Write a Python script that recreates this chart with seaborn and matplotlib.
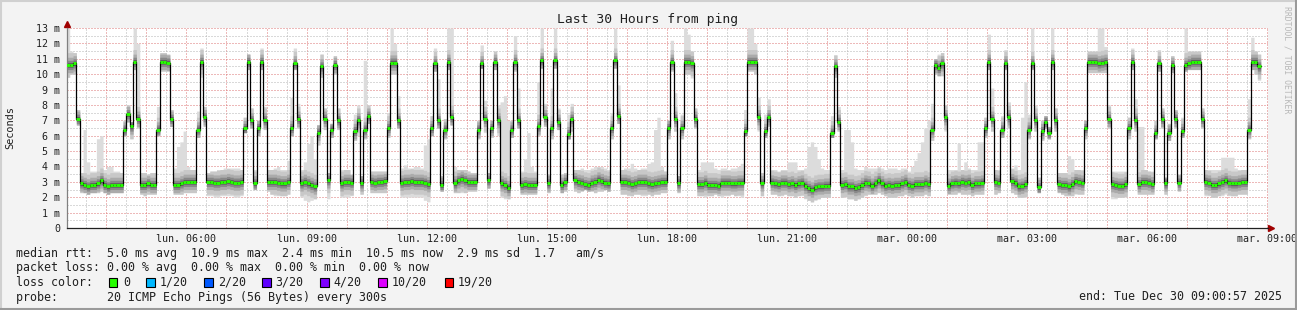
import numpy as np
import pandas as pd
import matplotlib
matplotlib.use("Agg")
import matplotlib.pyplot as plt
from matplotlib.patches import Rectangle
from matplotlib.lines import Line2D
import seaborn as sns

# ---------------- data (5-minute steps, milliseconds) ----------------
median_ms = [
 10.6, 10.6, 10.7, 7.1,
 2.9, 2.8, 2.7, 2.8, 2.8, 2.9, 3.1, 2.8, 2.7, 2.8, 2.8, 2.8, 2.8,
 6.4, 7.4, 6.6, 10.8, 7.1,
 2.8, 2.8, 2.9, 2.8, 2.8,
 6.4, 10.8, 10.8, 10.75, 7.1,
 2.8, 2.8, 2.9, 3.0, 3.0, 3.0, 3.0,
 6.4, 10.8, 7.2,
 3.0, 3.0, 2.95, 2.95, 3.0, 3.0, 3.05, 3.0, 2.95, 2.95, 3.0,
 6.5, 10.8, 7.0, 2.9, 6.5, 10.8, 7.0,
 3.0, 3.0, 3.0, 2.95, 2.9, 2.9, 3.0,
 6.5, 10.7, 7.1,
 2.9, 3.0, 2.9, 2.8, 2.7,
 6.2, 10.5, 7.1, 3.1, 6.4, 10.6, 7.0,
 2.9, 3.0, 3.0, 2.95,
 6.3, 7.0, 2.9, 6.4, 7.3,
 3.0, 2.95, 3.0, 3.0, 3.05,
 6.5, 10.75, 10.75, 7.0,
 2.95, 3.0, 3.0, 3.05, 3.0, 3.0, 3.0, 2.95, 2.85,
 6.5, 10.7, 7.0, 2.8, 6.4, 10.8, 7.2,
 2.9, 3.1, 3.2, 3.1, 3.0, 3.0, 3.0,
 6.4, 10.7, 7.1, 3.1, 6.5, 10.8, 7.0,
 2.9, 2.8, 2.6,
 6.4, 10.8, 7.0,
 2.8, 2.85, 2.8, 2.8, 2.8,
 6.6, 10.9, 7.2, 2.9, 6.5, 10.9, 6.9, 2.8, 3.0, 6.1, 7.1,
 3.1, 3.0, 2.95, 2.85, 2.8, 2.95, 3.0, 3.15, 3.05, 2.95, 2.9,
 6.5, 10.9, 7.3,
 3.0, 3.0, 2.95, 2.85, 2.9, 3.0, 3.0, 3.0, 2.9, 2.85, 2.9, 2.95, 3.0, 3.0,
 6.5, 10.8, 7.1, 2.9, 6.5, 10.8, 10.8, 10.7, 7.1,
 2.85, 2.85, 2.95, 2.8, 2.8, 2.8, 2.75, 2.95, 2.95, 2.95, 2.9, 2.9, 2.95, 2.95,
 6.3, 10.8, 10.8, 10.8, 7.2, 2.9, 6.3, 7.2,
 2.95, 2.9, 2.85, 2.95, 2.95, 2.85, 2.9, 2.8, 2.9, 2.95, 2.75, 2.6, 2.5, 2.65, 2.7, 2.7, 2.75, 2.75,
 6.2, 10.5, 6.9,
 2.8, 2.85, 2.7, 2.7, 2.6, 2.65, 2.8, 2.95, 2.9,
 2.75, 2.9, 3.1, 2.9, 2.75,
 2.8, 2.75, 2.8, 2.8, 2.9, 3.0,
 2.8, 2.75, 2.85, 2.85, 2.85, 2.95, 2.85,
 6.4, 10.6, 10.4, 10.7, 7.2,
 2.75, 2.9, 2.95, 2.9, 3.0, 2.95, 3.0, 2.8, 2.9, 2.9, 2.95,
 6.5, 10.8, 7.1, 3.0, 2.95, 6.4, 10.7, 7.2,
 3.05, 2.95, 2.7, 2.75, 2.85,
 6.4, 10.7, 7.0, 2.65, 6.3, 6.9, 6.2, 10.8, 7.0,
 2.85, 2.8, 2.8, 2.7, 2.85, 3.05, 3.0, 2.95,
 6.5, 10.8, 10.8, 10.8, 10.7, 10.75, 10.8, 7.1,
 2.85, 2.8, 2.75, 2.75, 2.85,
 6.5, 10.8, 7.0,
 2.85, 3.0, 3.0, 2.95, 2.85,
 6.2, 10.7, 7.1, 2.9, 6.2, 10.6, 7.1, 2.95, 6.3,
 10.6, 10.7, 10.8, 10.8, 10.8, 7.1,
 3.0, 2.95, 2.8, 2.8, 2.9, 3.0, 3.1, 2.95, 2.9, 2.9, 2.95, 3.0, 3.0,
 6.4, 10.8, 10.8, 10.5,
]

max_ms = [
 13.0, 11.5, 11.4, 7.7,
 3.6, 6.4, 4.3, 3.7, 3.7, 5.8, 6.0, 3.8, 4.0, 4.0, 3.7, 3.7, 3.6,
 7.0, 8.0, 6.9, 13.0, 12.0,
 3.6, 3.6, 3.5, 3.6, 3.6,
 7.9, 11.4, 11.4, 11.3, 7.7,
 3.9, 5.3, 5.6, 6.3, 4.0, 3.8, 3.8,
 7.6, 11.7, 7.9,
 3.6, 3.7, 3.7, 3.8, 3.8, 3.9, 3.9, 3.9, 3.9, 3.9, 3.8,
 7.2, 11.3, 7.8, 3.8, 7.0, 11.7, 7.9,
 3.8, 3.8, 3.9, 4.0, 3.8, 3.8, 4.4,
 8.5, 11.7, 8.1,
 3.8, 4.3, 5.5, 6.0, 4.5,
 6.7, 11.3, 7.8, 3.6, 6.8, 11.2, 7.8,
 3.8, 3.8, 3.8, 3.5,
 7.4, 8.0, 3.4, 10.9, 8.0,
 3.7, 3.7, 3.7, 3.7, 3.7,
 7.5, 13.0, 12.0, 8.6,
 3.9, 4.1, 3.9, 3.9, 4.0, 4.0, 3.9, 5.4, 5.8,
 7.3, 11.7, 9.7, 3.4, 7.1, 13.0, 13.0,
 4.0, 3.8, 3.8, 3.8, 3.7, 3.6, 3.6,
 7.0, 11.9, 8.3, 3.6, 7.0, 11.5, 8.0,
 8.2, 8.6, 7.0,
 7.0, 12.5, 9.1,
 3.7, 4.5, 6.2, 4.0, 3.7,
 9.5, 13.0, 8.1, 3.5, 9.1, 13.0, 7.8, 3.5, 3.6, 7.4, 8.1,
 3.8, 3.8, 3.9, 3.8, 3.8, 3.9, 4.0, 4.0, 4.0, 3.9, 3.8,
 7.5, 13.0, 9.3,
 3.8, 3.9, 3.9, 4.2, 3.9, 3.8, 3.9, 3.9, 4.2, 4.3, 6.4, 7.2, 4.0, 3.7,
 7.0, 12.2, 8.8, 3.4, 7.4, 13.0, 12.6, 11.5, 7.8,
 3.8, 4.3, 4.3, 4.3, 4.3, 3.9, 3.8, 3.9, 3.9, 3.8, 3.9, 3.9, 4.0, 4.2,
 7.7, 13.0, 13.0, 12.0, 8.5, 3.6, 7.4, 8.4,
 3.8, 3.8, 3.7, 3.8, 3.8, 4.3, 4.3, 4.3, 3.8, 3.8, 3.9, 5.3, 5.6, 5.3, 4.5, 3.9, 3.8, 3.8,
 7.3, 11.25, 7.9,
 3.8, 6.4, 6.4, 5.6, 3.9, 3.8, 3.8, 4.0, 3.9,
 3.9, 3.9, 4.0, 3.9, 3.8,
 3.9, 3.9, 3.9, 3.8, 3.9, 3.9,
 3.7, 4.0, 4.4, 4.9, 5.6, 6.5, 7.0,
 8.1, 11.0, 11.3, 11.4, 8.0,
 3.8, 3.8, 3.8, 5.5, 3.8, 4.3, 3.9, 3.8, 3.8, 5.6, 5.6,
 7.2, 12.6, 9.1, 3.8, 3.8, 7.3, 11.6, 8.2,
 3.9, 4.1, 3.8, 7.2, 9.5,
 7.4, 13.0, 8.0, 3.3, 7.0, 7.3, 6.6, 13.0, 7.8,
 3.6, 3.6, 3.6, 4.7, 4.5, 3.8, 3.8, 3.8,
 7.0, 11.5, 11.5, 11.5, 13.0, 13.0, 11.8, 8.0,
 3.7, 3.7, 3.7, 3.7, 3.7,
 7.2, 11.7, 8.4,
 6.6, 6.6, 3.8, 3.7, 3.7,
 7.0, 11.6, 7.8, 3.3, 6.8, 11.2, 7.7, 3.5, 7.2,
 13.0, 11.5, 11.5, 11.5, 11.5, 7.8,
 3.8, 3.8, 3.8, 3.8, 3.8, 4.6, 4.6, 4.6, 4.6, 3.9, 3.8, 3.8, 3.8,
 8.4, 12.4, 11.5, 11.3,
]

min_ms = [
 9.8, 10.0, 10.0, 6.7,
 2.3, 2.3, 2.2, 2.3, 2.3, 2.3, 2.4, 2.3, 2.2, 2.3, 2.3, 2.3, 2.3,
 6.0, 6.9, 5.8, 10.3, 6.5,
 2.2, 2.1, 2.2, 2.2, 2.2,
 6.0, 10.2, 10.2, 10.2, 6.6,
 2.2, 2.2, 2.2, 2.3, 2.3, 2.3, 2.3,
 5.9, 9.8, 6.6,
 2.1, 2.1, 2.0, 2.0, 2.1, 2.1, 2.1, 2.1, 2.0, 2.0, 2.1,
 6.2, 10.3, 6.5, 2.5, 6.0, 10.3, 6.4,
 2.4, 2.2, 2.1, 2.1, 2.1, 2.1, 2.2,
 6.0, 10.3, 6.5,
 2.0, 1.8, 1.7, 1.8, 1.9,
 5.4, 9.8, 6.4, 1.9, 5.9, 10.0, 6.4,
 2.0, 2.0, 2.0, 2.1,
 5.7, 6.0, 2.2, 5.8, 6.8,
 2.3, 2.3, 2.3, 2.3, 2.3,
 5.9, 10.0, 10.0, 6.5,
 2.0, 2.0, 2.0, 2.0, 2.0, 2.0, 2.0, 1.8, 1.7,
 6.0, 10.2, 6.5, 2.4, 5.8, 10.3, 6.7,
 2.3, 2.3, 2.3, 2.3, 2.4, 2.4, 2.4,
 5.8, 10.4, 6.2, 2.6, 5.9, 10.3, 6.0,
 2.0, 1.9, 1.9,
 5.9, 10.2, 6.5,
 2.2, 2.2, 2.2, 2.2, 2.2,
 6.0, 10.4, 6.6, 2.3, 5.8, 10.4, 6.4, 2.3, 2.4, 5.8, 6.3,
 2.4, 2.3, 2.4, 2.5, 2.4, 2.4, 2.3, 2.4, 2.4, 2.5, 2.4,
 5.8, 10.4, 6.8,
 2.2, 2.2, 2.1, 2.1, 2.2, 2.2, 2.1, 2.1, 2.2, 2.1, 2.2, 2.2, 2.3, 2.3,
 5.8, 10.2, 6.3, 2.3, 5.8, 10.0, 10.0, 9.75, 6.5,
 2.1, 2.1, 2.0, 2.1, 2.1, 2.2, 2.1, 2.0, 2.1, 2.1, 2.2, 2.1, 2.1, 2.0,
 6.0, 10.2, 10.2, 10.0, 6.3, 2.1, 5.9, 6.6,
 2.2, 2.2, 2.1, 2.1, 2.2, 2.1, 2.1, 2.0, 2.1, 2.1, 1.9, 1.8, 1.7, 1.8, 1.9, 2.0, 2.0, 2.0,
 5.9, 9.8, 6.3,
 2.0, 2.0, 1.9, 1.9, 1.8, 1.9, 2.0, 2.1, 2.2,
 2.2, 2.2, 2.3, 2.2, 2.1,
 2.0, 2.0, 2.0, 2.1, 2.1, 2.2,
 2.1, 2.0, 2.1, 2.1, 2.1, 2.2, 2.1,
 5.7, 10.0, 9.9, 9.9, 6.3,
 2.2, 2.2, 2.2, 2.3, 2.2, 2.2, 2.2, 2.1, 2.2, 2.2, 2.2,
 5.9, 10.3, 6.3, 2.2, 2.3, 5.9, 10.3, 6.5,
 2.3, 2.2, 2.0, 2.0, 2.0,
 5.8, 10.3, 6.3, 2.3, 5.7, 6.5, 5.8, 10.3, 6.3,
 2.3, 2.2, 2.1, 2.1, 2.1, 2.2, 2.2, 2.2,
 5.8, 10.1, 10.1, 10.1, 10.1, 10.1, 10.1, 6.5,
 1.9, 1.9, 2.0, 2.0, 2.0,
 5.8, 10.3, 6.3,
 2.2, 2.2, 2.2, 2.2, 2.2,
 5.8, 10.2, 6.5, 2.2, 5.7, 10.1, 6.5, 2.4, 5.9,
 10.2, 10.3, 10.3, 10.3, 10.3, 6.5,
 2.1, 2.1, 2.0, 2.0, 2.1, 2.1, 2.2, 2.1, 2.1, 2.1, 2.2, 2.2, 2.2,
 5.8, 10.3, 10.0, 9.6,
]

xtick_hours = [6, 9, 12, 15, 18, 21, 24, 27, 30, 33]
xtick_labels = ["lun. 06:00", "lun. 09:00", "lun. 12:00", "lun. 15:00", "lun. 18:00",
                "lun. 21:00", "mar. 00:00", "mar. 03:00", "mar. 06:00", "mar. 09:00"]
ytick_values = list(range(14))
ytick_labels = ["0"] + [f"{v} m" for v in range(1, 14)]

loss_labels = ["0", "1/20", "2/20", "3/20", "4/20", "10/20", "19/20"]
loss_colors = ["#26ff00", "#00b8ff", "#0059ff", "#5e00ff", "#7e00ff", "#dd00ff", "#ff0000"]

legend_lines = [
    "median rtt:  5.0 ms avg  10.9 ms max  2.4 ms min  10.5 ms now  2.9 ms sd  1.7   am/s",
    "packet loss: 0.00 % avg  0.00 % max  0.00 % min  0.00 % now",
    "loss color:",
    "probe:       20 ICMP Echo Pings (56 Bytes) every 300s",
]
end_text = "end: Tue Dec 30 09:00:57 2025"
title = "Last 30 Hours from ping"

for nm, arr in (("max", max_ms), ("min", min_ms)):
    if len(arr) != len(median_ms):
        raise SystemExit(f"length mismatch {nm}: {len(arr)} vs {len(median_ms)}")

# ---------------- style ----------------
sns.set_style("white")
plt.rcParams["font.family"] = ["DejaVu Sans Mono", "DejaVu Sans"]

W, H = 1297, 310
fig = plt.figure(figsize=(W / 100, H / 100), dpi=100, facecolor="#f3f3f3")
ax = fig.add_axes([67 / W, 1 - 228 / H, 1201 / W, 200 / H])
ax.set_facecolor("white")

STEP_H = 5 / 60.0
T0 = 3.0
START = 3 + 57 / 3600
END = 33 + 57 / 3600

med = np.array(median_ms)
hi = np.minimum(np.array(max_ms), 13.0)
lo = np.array(min_ms)
n = len(med)
t = T0 + np.arange(n) * STEP_H
edges = np.append(t, t[-1] + STEP_H)


def ext(a):
    return np.append(a, a[-1])


# smoke
ax.fill_between(edges, ext(lo), ext(hi), step="post", color="#dcdcdc", lw=0, zorder=1)
for wdt, col in [(0.8, "#c8c8c8"), (0.5, "#ababab"), (0.3, "#888888"), (0.15, "#5e5e5e")]:
    up = np.minimum(hi, med + wdt)
    dn = np.maximum(lo, med - wdt)
    ax.fill_between(edges, ext(dn), ext(up), step="post", color=col, lw=0, zorder=1)

# median line
df = pd.DataFrame({"t": edges, "ms": ext(med)})
sns.lineplot(data=df, x="t", y="ms", drawstyle="steps-post", color="black",
             lw=0.9, estimator=None, sort=False, ax=ax, zorder=3)
ax.hlines(med, t, t + STEP_H, colors="#26ff00", lw=2.1, zorder=4)

ax.set_xlim(START, END)
ax.set_ylim(0, 13)
ax.set_xlabel("")
ax.set_ylabel("")

# ticks / grid
ax.set_xticks(list(range(4, 34)))
ax.set_xticklabels([xtick_labels[xtick_hours.index(h)] if h in xtick_hours else "" for h in range(4, 34)])
ax.set_xticks([h + 0.5 for h in range(3, 33)], minor=True)
ax.set_yticks(ytick_values)
ax.set_yticklabels(ytick_labels)
ax.set_yticks([v + 0.5 for v in range(13)], minor=True)

ax.set_axisbelow(True)
ax.grid(True, which="major", color="#dc7474", linestyle=(0, (1, 2)), lw=0.72, snap=True)
ax.grid(True, which="minor", color="#b4b4b4", linestyle=(0, (1, 2)), lw=0.72, snap=True)

ax.tick_params(which="major", length=2.2, width=0.72, color="#d05050", labelsize=7.2,
               labelcolor="#202020")
ax.tick_params(which="minor", length=1.5, width=0.72, color="#b0b0b0")
ax.tick_params(axis="x", which="major", pad=1.8)
ax.tick_params(axis="y", which="major", pad=2.6)

for s in ("top", "right"):
    ax.spines[s].set_visible(False)
ax.spines["left"].set_color("#808080")
ax.spines["left"].set_linewidth(0.9)
ax.spines["bottom"].set_color("#202020")
ax.spines["bottom"].set_linewidth(0.9)

ax.plot([1 + 3 / 1201], [0], marker=">", ms=4.2, color="#a00000", mec="#a00000",
        transform=ax.transAxes, clip_on=False)
ax.plot([0], [1 + 4 / 200], marker="^", ms=4.2, color="#a00000", mec="#a00000",
        transform=ax.transAxes, clip_on=False)

# ---------------- texts ----------------
def fx(px):
    return px / W


def fy(py):
    return 1 - py / H


fig.text(fx(648), fy(19), title, ha="center", va="center", fontsize=9.4, color="#202020")
fig.text(fx(10), fy(128), "Seconds", rotation=90, ha="center", va="center",
         fontsize=7.4, color="#202020")
fig.text(fx(1287), fy(60), "RRDTOOL / TOBI OETIKER", rotation=270, ha="center",
         va="center", fontsize=5.9, color="#b8b8b8")

LEG_FS = 8.4
for yy, line in zip([254, 268, 282, 297], legend_lines):
    fig.text(fx(16), fy(yy), line, ha="left", va="center", fontsize=LEG_FS, color="#202020")
fig.text(fx(1282), fy(297), end_text, ha="right", va="center", fontsize=LEG_FS, color="#202020")

box_x = [108.6, 146, 204, 262, 320, 378, 444.5]
lab_x = [123.5, 159.6, 217.7, 275.7, 333.7, 391.8, 458]
for bx, lx, lab, col in zip(box_x, lab_x, loss_labels, loss_colors):
    fig.patches.append(Rectangle((fx(bx), fy(286.5)), 8.5 / W, 9 / H, transform=fig.transFigure,
                                 facecolor=col, edgecolor="#000000", lw=0.8))
    fig.text(fx(lx), fy(282), lab, ha="left", va="center", fontsize=LEG_FS, color="#202020")

# frame
fig.add_artist(Line2D([0, 1], [1 - 1 / H, 1 - 1 / H], transform=fig.transFigure, color="#d0d0d0", lw=1.5))
fig.add_artist(Line2D([1 / W, 1 / W], [0, 1], transform=fig.transFigure, color="#d0d0d0", lw=1.5))
fig.add_artist(Line2D([0, 1], [1 / H, 1 / H], transform=fig.transFigure, color="#9a9a9a", lw=1.5))
fig.add_artist(Line2D([1 - 1 / W, 1 - 1 / W], [0, 1], transform=fig.transFigure, color="#9a9a9a", lw=1.5))

fig.savefig("out.png", dpi=100, facecolor=fig.get_facecolor())
